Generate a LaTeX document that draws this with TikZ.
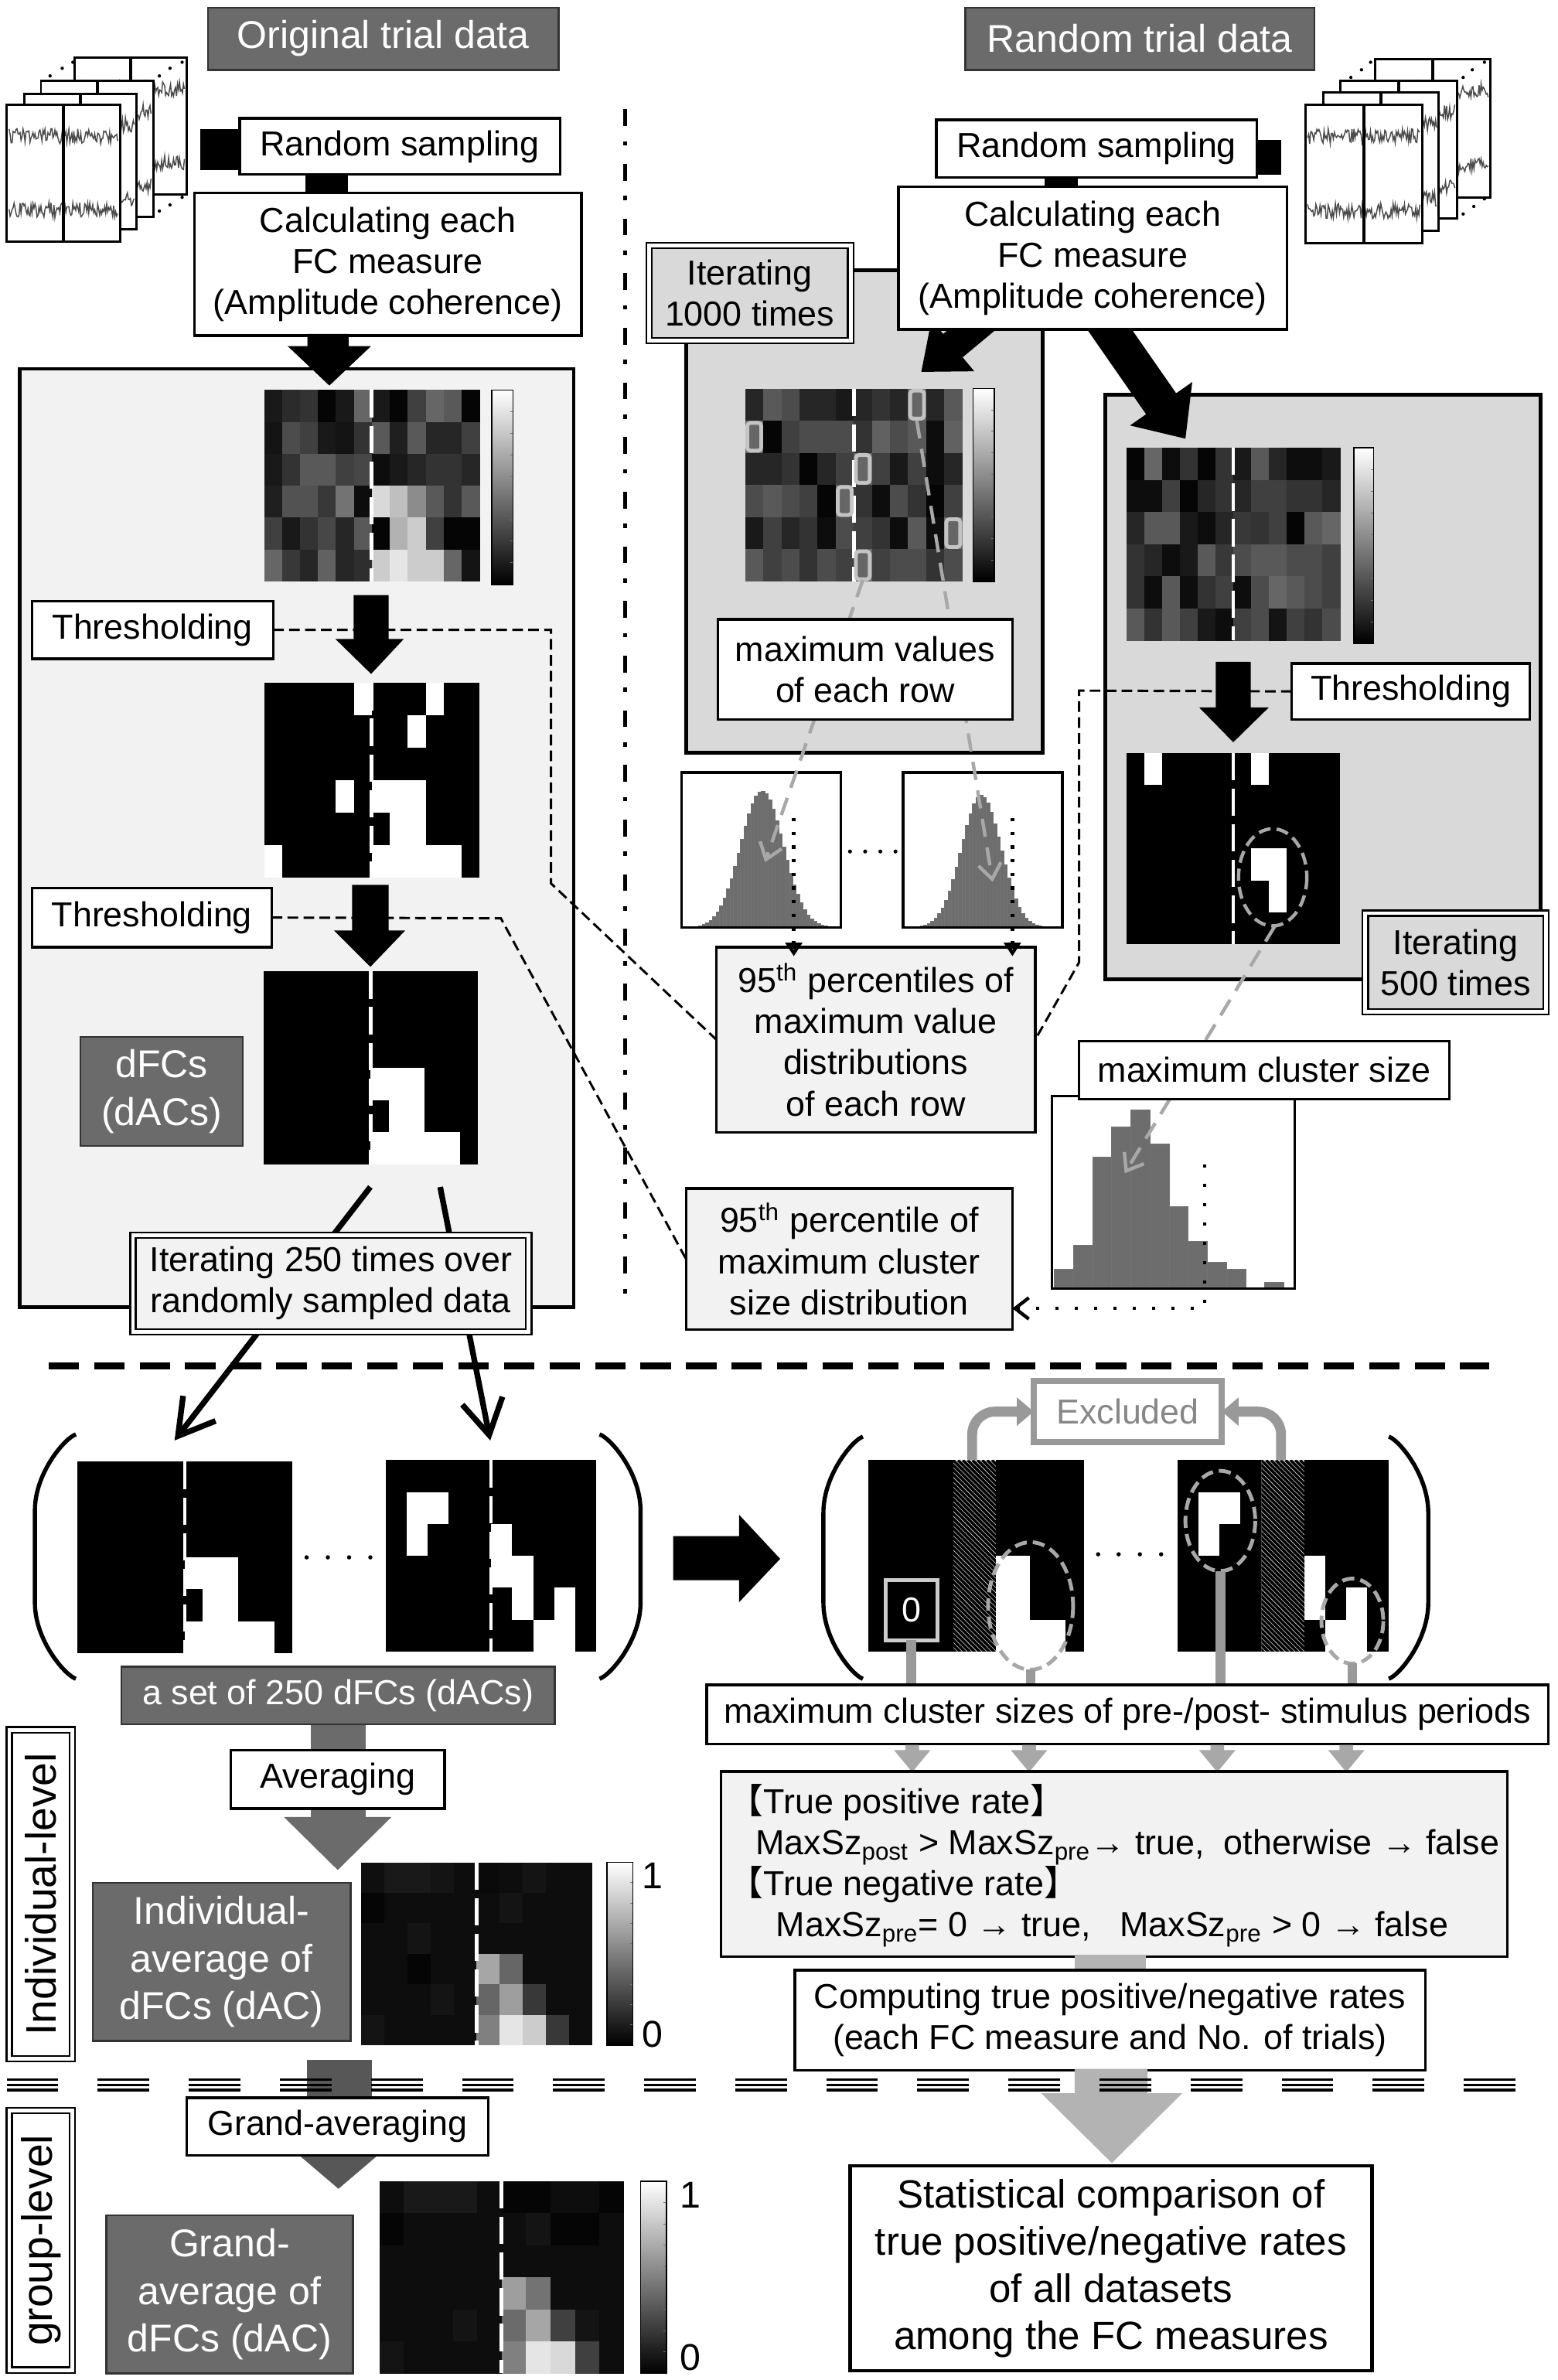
\documentclass[tikz,border=0pt]{standalone}
\usepackage{fontspec}
\setmainfont{Liberation Sans}
\newfontfamily\cjk{Noto Sans CJK JP}
\usetikzlibrary{arrows.meta,calc}
\definecolor{dgray}{HTML}{6B6B6B}
\definecolor{lgray}{HTML}{F2F2F2}
\definecolor{mgray}{HTML}{D9D9D9}
\definecolor{hgray}{HTML}{6D6D6D}
\definecolor{dashg}{HTML}{A8A8A8}
\definecolor{lineg}{HTML}{999999}
\definecolor{arrg}{HTML}{B3B3B3}
\definecolor{avgg}{HTML}{6B6B6B}
\definecolor{gavgg}{HTML}{575757}
\definecolor{hlg}{HTML}{C4C4C4}

\newcommand\bx[7][]{%
  \pgfmathsetmacro\bxw{(#5-#3)*0.2}%
  \pgfmathsetmacro\bxh{(#6-#4)*0.2}%
  \node[inner sep=0pt,outer sep=0pt,minimum width=\bxw mm,minimum height=\bxh mm,#1] (#2) at ({(#3+#5)/2},{(#4+#6)/2}) {#7};}

\newcommand\hmap[7]{%
  \fill[black] (#1,#2) rectangle (#3,#4);
  \foreach \hv [count=\hi from 0] in {#7} {%
    \pgfmathtruncatemacro\hmc{mod(\hi,#5)}%
    \pgfmathtruncatemacro\hmr{div(\hi,#5)}%
    \pgfmathsetmacro\hmk{100-100*\hv}%
    \fill[black!\hmk] ({#1+\hmc*(#3-#1)/#5},{#2+\hmr*(#4-#2)/#6}) rectangle ({#1+(\hmc+1)*(#3-#1)/#5+0.15},{#2+(\hmr+1)*(#4-#2)/#6+0.15});
  }}

\newcommand\bmap[7]{%
  \fill[black] (#1,#2) rectangle (#3,#4);
  \foreach \cx/\ry in {#7} {%
    \fill[white] ({#1+(\cx-1)*(#3-#1)/#5},{#2+(\ry-1)*(#4-#2)/#6}) rectangle ({#1+\cx*(#3-#1)/#5},{#2+\ry*(#4-#2)/#6});
  }}

\newcommand\wdash[3]{\draw[white,line width=0.5mm,dash pattern=on 3.6mm off 1.1mm] (#1,#2) -- (#1,#3);}

\newcommand\cbar[4]{%
  \shade[top color=white,bottom color=black] (#1,#2) rectangle (#3,#4);
  \foreach \tk in {1,...,8} \draw[black!55,line width=0.1mm] ({#3-2},{#2+\tk*(#4-#2)/9}) -- (#3,{#2+\tk*(#4-#2)/9});
  \draw[line width=0.15mm] (#1,#2) rectangle (#3,#4);}

\newcommand\trialpage[4]{%
  \draw[page] (#1,#2) rectangle (#3,#4);
  \pgfmathsetmacro\pmx{(#1+#3)/2}%
  \pgfmathsetmacro\pya{#2+0.23*(#4-#2)}%
  \pgfmathsetmacro\pyb{#2+0.77*(#4-#2)}%
  \pgfmathsetmacro\pxa{#1+1.5}%
  \pgfmathsetmacro\pxb{#3-1.5}%
  \draw[wave] plot[domain=\pxa:\pxb,samples=110] (\x,{\pya+5*rand});
  \draw[wave] plot[domain=\pxa:\pxb,samples=110] (\x,{\pyb+5*rand});
  \draw[line width=0.4mm] (\pmx,#2) -- (\pmx,#4);}

\newcommand\histo[7]{%
  \fill[white] (#1,#2) rectangle (#3,#4);
  \pgfmathsetmacro\hbw{(#3-#1-4)/44}%
  \foreach \hk in {0,...,43} {%
    \pgfmathsetmacro\hbl{#1+2+\hk*\hbw}%
    \pgfmathsetmacro\hbc{\hbl+0.5*\hbw}%
    \pgfmathsetmacro\hbh{#7*exp(-0.5*(\hbc-#5)*(\hbc-#5)/(#6*#6))}%
    \fill[hgray,draw=black!55,line width=0.06mm] (\hbl,#4) rectangle ({\hbl+\hbw},{#4-\hbh});
  }
  \draw[line width=0.35mm] (#1,#2) rectangle (#3,#4);}

\newcommand\hatch[4]{%
  \begin{scope}
  \clip (#1,#2) rectangle (#3,#4);
  \fill[black!15] (#1,#2) rectangle (#3,#4);
  \foreach \hk in {-45,...,12} \draw[line width=0.36mm] ({#1+\hk*3.2},#2) -- ++(135,135);
  \end{scope}}

\newcommand\lbrk[4]{%
  \draw[line width=0.55mm] (#1,#3) .. controls ({#2+0.75*(#1-#2)},{#3+2}) and (#2,{#3+25}) .. (#2,{#3+50}) -- (#2,{#4-50}) .. controls (#2,{#4-25}) and ({#2+0.75*(#1-#2)},{#4-2}) .. (#1,#4);}

\begin{document}
\begin{tikzpicture}[x=0.2mm,y=-0.2mm,
  tb/.style={draw=black,fill=white,line width=0.35mm},
  lbl/.style={draw=black!80,fill=dgray,line width=0.25mm,text=white},
  f13/.style={font=\fontsize{13}{15.4}\selectfont,align=center},
  f14/.style={font=\fontsize{14.5}{17.8}\selectfont,align=center},
  dbl/.style={draw=black,line width=0.22mm,double=white,double distance=0.5mm},
  bigbox/.style={draw=black,line width=0.5mm},
  page/.style={draw=black,fill=white,line width=0.3mm},
  wave/.style={draw=black!70,line width=0.15mm},
  gdash/.style={draw=dashg,line width=0.45mm,dash pattern=on 2.4mm off 1.4mm},
  bdash/.style={draw=black,line width=0.3mm,dash pattern=on 1.4mm off 0.7mm},
  bdot/.style={draw=black,line width=0.45mm,dash pattern=on 0.45mm off 1.35mm},
  bdot2/.style={draw=black,line width=0.45mm,dash pattern=on 0.45mm off 2.1mm},
  hl/.style={draw=hlg,line width=0.5mm,rounded corners=0.4mm},
  ell/.style={draw=dashg,line width=0.45mm,dash pattern=on 1.6mm off 0.8mm},
  fatarrow/.style={line width=0.75mm,-{Straight Barb[length=4.6mm,width=5.4mm]}},
  sbarb/.style={-{Straight Barb[length=2mm,width=3mm]}},
]
\useasboundingbox (0,0) rectangle (1026,1568);
\fill[white] (0,0) rectangle (1026,1568);
\pgfmathsetseed{7}

% ================= TOP LEFT =================
\trialpage{49}{38}{123}{128}
\trialpage{27}{53}{101}{143}
\trialpage{16}{62}{90}{151}
\trialpage{4.5}{69}{79}{159}
\foreach \pp in {(33,50),(41,45),(48,41),(105,50),(112,45),(120,41),(105,139),(112,135),(120,130)} \fill \pp circle (1.1);
\fill (132,85) rectangle (158,112);
\fill (201,114) rectangle (229,128);
\bx[lbl,f14]{hdrO}{137}{5}{368}{46}{Original trial data}
\bx[tb,f13]{rsL}{158}{78}{369}{115}{Random sampling}
\bx[tb,f13]{calcL}{128}{127}{383}{221}{Calculating each\\FC measure\\(Amplitude coherence)}

\bx[bigbox,fill=lgray]{origBox}{13}{243}{378}{861}{}
\fill (202.5,220) -- (229.7,220) -- (229.7,228) -- (244.5,228) -- (217,254) -- (189.5,228) -- (202.5,228) -- cycle;
\hmap{174}{257}{316}{383}{12}{6}{0.10,0.17,0.20,0.02,0.10,0.40,0.10,0.02,0.25,0.40,0.35,0.02,
0.08,0.30,0.25,0.10,0.08,0.20,0.35,0.12,0.35,0.15,0.15,0.25,
0.10,0.20,0.35,0.35,0.25,0.28,0.05,0.10,0.15,0.20,0.20,0.15,
0.12,0.32,0.32,0.22,0.45,0.05,0.85,0.75,0.55,0.35,0.20,0.35,
0.25,0.10,0.20,0.28,0.15,0.35,0.02,0.70,0.80,0.25,0.02,0.02,
0.40,0.22,0.15,0.38,0.15,0.18,0.80,0.90,0.80,0.80,0.40,0.08}
\wdash{245}{257}{383}
\cbar{324}{257}{338}{385}
\bx[tb,f13]{thrA}{21}{396}{180}{434}{Thresholding}
\fill (233,392) -- (256,392) -- (256,421) -- (266,421) -- (244.5,444) -- (221,421) -- (233,421) -- cycle;
\bmap{174}{450}{316}{578}{12}{6}{6/1,10/1,9/2,5/4,7/4,8/4,9/4,8/5,9/5,1/6,7/6,8/6,9/6,10/6,11/6}
\wdash{245}{450}{578}
\bx[tb,f13]{thrB}{21}{585}{179}{624}{Thresholding}
\fill (232,583) -- (256,583) -- (256,613) -- (267,613) -- (244,637) -- (220,613) -- (232,613) -- cycle;
\bmap{173.5}{640}{315}{767}{12}{6}{7/4,8/4,9/4,8/5,9/5,7/6,8/6,9/6,10/6,11/6}
\wdash{244.25}{640}{767}
\bx[lbl,f14]{dfcl}{53}{683}{160}{755}{dFCs\\(dACs)}
\coordinate (dfcA) at (244,782);
\coordinate (dfcB) at (290,782);
\coordinate (mapAtip) at (115,949);
\coordinate (mapBtip) at (323,949);
\draw[fatarrow] (dfcA) -- (mapAtip);
\draw[fatarrow] (dfcB) -- (mapBtip);
\bx[dbl,fill=lgray,f13]{it250}{87.6}{813.6}{348.4}{877.4}{Iterating 250 times over\\randomly sampled data}

% ================= TOP RIGHT =================
\trialpage{906}{39}{982}{130}
\trialpage{883}{53}{960}{144}
\trialpage{872}{61}{948}{152}
\trialpage{860}{69}{937}{160}
\foreach \pp in {(890,51),(897,46),(903,41),(964,51),(970,46),(978,41),(964,141),(971,136),(978,131)} \fill \pp circle (1.1);
\fill (828,92) rectangle (844,115);
\fill (688,116) rectangle (710,124);
\bx[lbl,f14]{hdrR}{636}{5}{866}{46}{Random trial data}
\bx[tb,f13]{rsR}{617}{79}{828}{117}{Random sampling}
\bx[bigbox,fill=mgray]{gbox1}{452}{178}{687}{496}{}
\bx[bigbox,fill=mgray]{gbox2}{728}{260}{1015}{645}{}
\fill (669.9,179.7) -- (621.4,220) -- (613.7,210.8) -- (607,245) -- (641.9,244.6) -- (634.2,235.4) -- (682.7,195.1) -- cycle;
\fill (702.6,197.4) -- (755.1,272.9) -- (744.5,280.3) -- (781,289) -- (785.5,251.7) -- (774.9,259.1) -- (722.4,183.6) -- cycle;
\bx[tb,f13]{calcR}{592}{123}{848}{217}{Calculating each\\FC measure\\(Amplitude coherence)}
\bx[dbl,fill=mgray,f13]{it1000}{427.6}{161.6}{560.4}{224.4}{Iterating\\1000 times}

\hmap{491}{256}{634}{383}{12}{6}{0.15,0.35,0.30,0.15,0.15,0.10,0.15,0.20,0.15,0.40,0.15,0.35,
0.40,0.02,0.25,0.30,0.30,0.30,0.20,0.38,0.30,0.35,0.05,0.38,
0.15,0.15,0.20,0.02,0.15,0.25,0.40,0.25,0.10,0.25,0.05,0.15,
0.30,0.35,0.30,0.25,0.02,0.40,0.20,0.05,0.30,0.20,0.02,0.25,
0.10,0.25,0.15,0.20,0.05,0.30,0.25,0.20,0.05,0.35,0.05,0.40,
0.35,0.25,0.30,0.20,0.30,0.25,0.40,0.25,0.30,0.30,0.20,0.30}
\wdash{562.5}{256}{383}
\cbar{641}{256}{655}{383}
\foreach \cx/\ry in {10/1,1/2,7/3,6/4,12/5,7/6}
  \draw[hl] ({491+(\cx-1)*11.917+1.4},{256+(\ry-1)*21.167+1.4}) rectangle ({491+\cx*11.917-1.4},{256+\ry*21.167-1.4});
\histo{449}{509}{554}{611}{502}{14}{90}
\histo{595}{509}{700}{611}{646.5}{13}{87}
\foreach \xx in {560,570,580,590} \fill (\xx,561) circle (1.3);
\coordinate (hlA) at (568.5,382);
\coordinate (hlB) at (604,277);
\coordinate (histAtip) at (504,568);
\coordinate (histBtip) at (654,581);
\draw[gdash,sbarb] (hlA) -- (histAtip);
\draw[gdash,sbarb] (hlB) -- (histBtip);
\bx[tb,f13]{maxv}{473}{408}{667}{474}{maximum values\\of each row}

\hmap{742}{295}{883}{422}{12}{6}{0.02,0.40,0.05,0.20,0.02,0.20,0.10,0.35,0.15,0.05,0.05,0.10,
0.05,0.05,0.25,0.02,0.15,0.20,0.15,0.25,0.25,0.20,0.20,0.15,
0.15,0.35,0.35,0.10,0.05,0.15,0.22,0.20,0.25,0.02,0.35,0.40,
0.20,0.15,0.05,0.10,0.35,0.22,0.30,0.35,0.35,0.30,0.30,0.25,
0.20,0.05,0.35,0.05,0.20,0.25,0.05,0.30,0.40,0.35,0.30,0.25,
0.35,0.20,0.35,0.25,0.10,0.05,0.25,0.30,0.08,0.25,0.20,0.30}
\wdash{812.5}{295}{422}
\cbar{892}{295}{905}{424}
\fill (801,436) -- (824,436) -- (824,466) -- (836,466) -- (812.5,489) -- (790,466) -- (801,466) -- cycle;
\bx[tb,f13]{thrR}{851}{437}{1008}{474}{Thresholding}
\bmap{742}{496}{883}{622}{12}{6}{2/1,8/1,8/4,9/4,9/5}
\wdash{812.5}{496}{622}
\draw[ell] (838.5,578) ellipse [x radius=22.5,y radius=32];

% cluster histogram
\fill[white] (693,722) rectangle (853,849);
\foreach \hk/\bt in {0/836.3,1/820.2,2/762,3/742.5,4/731.3,5/753.5,6/795,7/817.6,8/831.3,9/836.3,11/845}
  \fill[hgray,draw=black!55,line width=0.06mm] ({694.6+\hk*12.6},848) rectangle ({694.6+(\hk+1)*12.6},\bt);
\draw[line width=0.35mm] (693,722) rectangle (853,849);
\coordinate (ellBot) at (840,610);
\coordinate (clTip) at (741,773);
\draw[gdash,sbarb] (ellBot) -- (clTip);
\bx[tb,f13]{maxcl}{711}{686}{955}{724}{maximum cluster size}
\bx[dbl,fill=mgray,f13]{it500}{899.6}{601.6}{1018.4}{666.4}{Iterating\\500 times}

\bx[draw=black,line width=0.35mm,fill=lgray,f13]{p95}{472}{624}{682}{746}{95\textsuperscript{th} percentiles of\\maximum value\\distributions\\of each row}
\bx[draw=black,line width=0.35mm,fill=lgray,f13]{p95c}{452}{783}{667}{876}{95\textsuperscript{th} percentile of\\maximum cluster\\size distribution}
\draw[bdot,-{Triangle[open,length=1.8mm,width=2.2mm]}] (523,539) -- (523,630);
\draw[bdot,-{Triangle[open,length=1.8mm,width=2.2mm]}] (667,539) -- (667,630);
\coordinate (clDot) at (793.7,767);
\draw[bdot2,-{Straight Barb[length=1.8mm,width=2.8mm]}] (clDot) -- (793.7,862) -- (p95c.east |- 0,862);
\draw[bdash] (thrA.east) -- (363,415) -- (363,582) -- (p95.west);
\draw[bdash] (thrB.east) -- (330,605) -- (p95c.west);
\draw[bdash] (thrR.west) -- (711,455) -- (711,634) -- (p95.east);

% separators
\draw[line width=0.5mm,dash pattern=on 2.2mm off 2mm on 0.6mm off 2.4mm] (412,72) -- (412,860);
\draw[line width=0.9mm,dash pattern=on 4mm off 2mm] (32,900) -- (981,900);

% ================= BOTTOM LEFT =================
\lbrk{50}{23}{945}{1106}
\lbrk{395}{422}{945}{1106}
\bmap{51}{963}{192.5}{1089}{12}{6}{7/4,8/4,9/4,8/5,9/5,7/6,8/6,9/6,10/6,11/6}
\wdash{121.75}{963}{1089}
\bmap{254}{962}{393}{1088}{10}{6}{2/2,3/2,2/3,6/3,6/4,7/4,7/5,9/5,8/6,9/6}
\wdash{323.5}{962}{1088}
\foreach \xx in {202,216,230,244} \fill (\xx,1026) circle (1.4);
\fill (443.5,1012) -- (487,1012) -- (487,998) -- (514,1027) -- (487,1055.5) -- (487,1041) -- (443.5,1041) -- cycle;

\fill[avgg] (205,1135) rectangle (241,1198);
\fill[avgg] (187,1197) -- (258,1197) -- (222.5,1232) -- cycle;
\bx[lbl,f13]{set250}{80}{1098}{365.5}{1136}{a set of 250 dFCs (dACs)}
\bx[tb,f13]{avg}{152}{1153}{293}{1191.5}{Averaging}
\bx[lbl,f14]{indiv}{61}{1240.5}{231}{1344.5}{Individual-\\average of\\dFCs (dAC)}
\hmap{238}{1227}{390}{1347.5}{10}{6}{0.06,0.10,0.10,0.08,0.05,0.04,0.05,0.08,0.05,0.05,
0.02,0.05,0.05,0.05,0.05,0.05,0.08,0.05,0.05,0.05,
0.05,0.05,0.08,0.05,0.05,0.05,0.05,0.05,0.05,0.05,
0.05,0.05,0.02,0.05,0.05,0.65,0.40,0.05,0.05,0.05,
0.05,0.05,0.05,0.08,0.05,0.40,0.62,0.22,0.05,0.05,
0.08,0.05,0.05,0.05,0.05,0.50,0.90,0.80,0.22,0.05}
\wdash{314}{1227}{1347.5}
\cbar{400}{1227}{417}{1347.5}
\node[font=\fontsize{14}{14}\selectfont] (cbI1) at (430,1236) {1};
\node[font=\fontsize{14}{14}\selectfont] (cbI0) at (430,1340) {0};

\fill[gavgg] (202,1357) rectangle (245,1420);
\fill[gavgg] (196,1419) -- (250,1419) -- (223,1442) -- cycle;
\bx[tb,f13]{gavg}{123}{1382}{321.7}{1420}{Grand-averaging}
\bx[lbl,f14]{grand}{70}{1459.5}{232.5}{1563.6}{Grand-\\average of\\dFCs (dAC)}
\hmap{250}{1437}{411}{1563.6}{10}{6}{0.05,0.10,0.10,0.10,0.05,0.02,0.02,0.05,0.05,0.02,
0.02,0.05,0.05,0.05,0.05,0.05,0.08,0.02,0.02,0.05,
0.05,0.05,0.05,0.05,0.05,0.05,0.05,0.05,0.05,0.05,
0.05,0.05,0.05,0.05,0.05,0.62,0.45,0.05,0.05,0.05,
0.05,0.05,0.05,0.08,0.05,0.42,0.65,0.25,0.08,0.05,
0.08,0.05,0.05,0.05,0.05,0.50,0.90,0.85,0.25,0.05}
\wdash{330.5}{1437}{1563.6}
\cbar{422}{1437}{439}{1563.6}
\node[font=\fontsize{14}{14}\selectfont] (cbG1) at (455,1446) {1};
\node[font=\fontsize{14}{14}\selectfont] (cbG0) at (455,1553) {0};

\bx[dbl,fill=white]{indlev}{6.1}{1139.6}{47.7}{1356.4}{}
\node[rotate=90,font=\fontsize{16}{16}\selectfont] (indlevT) at (indlev.center) {Individual-level};
\bx[dbl,fill=white]{grplev}{6.1}{1390.6}{47.7}{1561.4}{}
\node[rotate=90,font=\fontsize{16}{16}\selectfont] (grplevT) at (grplev.center) {group-level};

% ================= BOTTOM RIGHT =================
\lbrk{568.5}{542.5}{946.5}{1106}
\lbrk{915}{941}{946.5}{1106}
\bmap{572}{962}{714}{1088}{12}{6}{7/4,8/4,9/4,8/5,9/5,7/6,8/6,9/6,10/6,11/6}
\hatch{628}{962}{656}{1088}
\bmap{775.6}{962}{914.7}{1088}{10}{6}{2/2,3/2,2/3,6/3,6/4,7/4,7/5,9/5,8/6,9/6}
\hatch{831}{962}{859.5}{1088}
\foreach \xx in {723.5,737,751,765} \fill (\xx,1024) circle (1.4);
\coordinate (mcsTop) at (0,1110);
\bx[draw=black!20,line width=0.5mm,fill=black,text=white,f13]{zero}{583.5}{1041}{617.5}{1080.5}{0}
\draw[ell,line width=0.5mm] (679,1058) ellipse [x radius=28,y radius=42];
\draw[ell,line width=0.5mm] (804,1002) ellipse [x radius=23,y radius=33];
\draw[ell,line width=0.5mm] (891,1068) ellipse [x radius=20.4,y radius=28];
\coordinate (eA) at (679,1100);
\coordinate (eB) at (804,1035);
\coordinate (eC) at (891,1096);
\draw[lineg,line width=1.3mm] (zero.south) -- (zero.south |- mcsTop);
\draw[lineg,line width=1.3mm] (eA) -- (eA |- mcsTop);
\draw[lineg,line width=1.3mm] (eB) -- (eB |- mcsTop);
\draw[lineg,line width=1.3mm] (eC) -- (eC |- mcsTop);
\bx[draw=lineg,line width=0.8mm,fill=white,text=black!47,f13]{excl}{681}{910}{805}{950}{Excluded}
\coordinate (hatA) at (640.5,962);
\coordinate (hatB) at (844,962);
\draw[lineg,line width=1.3mm,rounded corners=3mm,-{Triangle[length=2.2mm,width=3.6mm]}] (hatA) |- (excl.west);
\draw[lineg,line width=1.3mm,rounded corners=3mm,-{Triangle[length=2.2mm,width=3.6mm]}] (hatB) |- (excl.east);
\bx[tb,f13]{mcs}{465.6}{1110}{1020}{1149}{maximum cluster sizes of pre-/post- stimulus periods}
\foreach \xx in {601,678,802,887} \fill[dashg] ({\xx-4.5},1149.5) -- ({\xx+4.5},1149.5) -- ({\xx+4.5},1153) -- ({\xx+12},1153) -- (\xx,1167.5) -- ({\xx-12},1153) -- ({\xx-4.5},1153) -- cycle;
\bx[draw=black,line width=0.35mm,fill=lgray]{tpr}{475}{1167}{993}{1289}{}
\node[anchor=base west,inner sep=0pt,font=\fontsize{13}{15.4}\selectfont] (tpr1) at (480,1195) {{\cjk 【}True positive rate{\cjk 】}};
\node[anchor=base west,inner sep=0pt,font=\fontsize{13}{15.4}\selectfont] (tpr2) at (497.6,1222) {MaxSz\textsubscript{post} > MaxSz\textsubscript{pre}→ true,\ \ otherwise → false};
\node[anchor=base west,inner sep=0pt,font=\fontsize{13}{15.4}\selectfont] (tpr3) at (480,1249) {{\cjk 【}True negative rate{\cjk 】}};
\node[anchor=base west,inner sep=0pt,font=\fontsize{13}{15.4}\selectfont] (tpr4) at (511,1276) {MaxSz\textsubscript{pre}= 0 → true,\ \ \ MaxSz\textsubscript{pre} > 0 → false};
\fill[arrg] (708,1288) rectangle (755,1299);
\bx[tb,f13]{comp}{523.6}{1298}{939}{1364}{Computing true positive/negative rates\\(each FC measure and No. of trials)}
\fill[arrg] (708,1363) -- (756,1363) -- (756,1379) -- (779,1379) -- (732.5,1425) -- (686,1379) -- (708,1379) -- cycle;
\bx[draw=black,line width=0.45mm,fill=white,font=\fontsize{14.8}{17.6}\selectfont,align=center]{stat}{560}{1427}{904}{1562}{Statistical comparison of\\true positive/negative rates\\of all datasets\\among the FC measures}

% triple separator
\foreach \yy in {1370.2,1373.6,1377} \draw[line width=0.34mm,dash pattern=on 6.8mm off 5.2mm] (4.4,\yy) -- (1000,\yy);
\end{tikzpicture}
\end{document}
